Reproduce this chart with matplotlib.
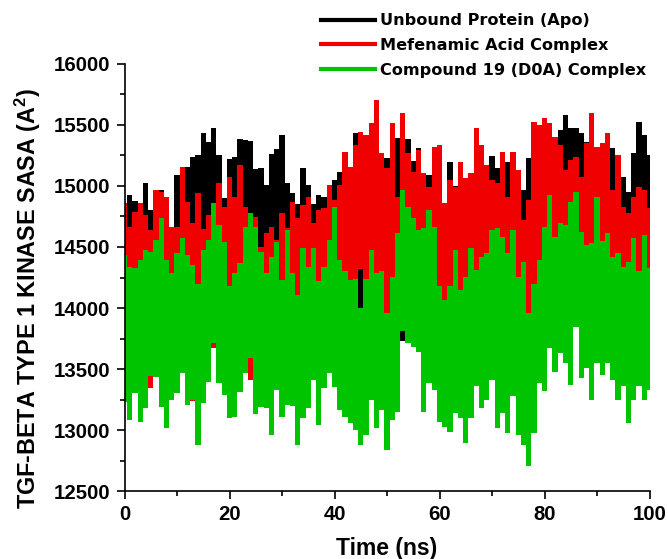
import numpy as np
import matplotlib
matplotlib.use('Agg')
import matplotlib.pyplot as plt
from matplotlib.lines import Line2D
from matplotlib.ticker import MultipleLocator

# top of each trace, read every 1 ns
apo_top = [14858, 14926, 14880, 14780, 15021, 14800, 14700, 14967, 14700, 14600,
           15090, 14800, 15158, 15240, 15253, 15430, 15362, 15470, 15250, 14900,
           15220, 15240, 15380, 15376, 15370, 15140, 15144, 15008, 15260, 15300,
           15420, 15021, 14940, 14850, 15144, 15008, 14850, 14926, 14912, 14800,
           15049, 15117, 15000, 15100, 15430, 15400, 15380, 15300, 15300, 15200,
           15226, 15300, 15390, 15300, 15381, 15200, 15308, 15103, 15090, 15100,
           15100, 14850, 15199, 15000, 15100, 15050, 15100, 15300, 15300, 15170,
           15248, 15144, 15035, 15199, 15200, 15000, 14970, 15226, 15400, 15400,
           15500, 15450, 15400, 15458, 15580, 15471, 15471, 15430, 15362, 15300,
           15267, 15300, 15417, 15308, 15199, 15076, 14950, 15267, 15526, 15417,
           15250]
mefenamic_top = [14858, 14667, 14790, 14858, 14762, 14640, 14967, 14953, 14912, 14667,
                 14667, 15158, 14871, 14694, 14940, 14650, 14762, 14720, 15021, 14830,
                 15076, 14912, 15171, 14830, 14640, 14749, 14503, 14612, 14667, 14558,
                 14776, 14653, 14871, 14735, 14844, 14912, 14694, 14803, 14817, 15008,
                 14885, 15008, 15280, 15158, 15335, 15444, 15417, 15512, 15703, 15267,
                 15144, 15512, 14912, 15594, 15267, 15117, 15294, 15103, 14994, 15321,
                 15335, 14858, 15049, 14994, 15199, 15062, 15103, 15471, 15335, 15171,
                 15049, 15021, 15280, 14912, 15280, 15130, 14720, 14885, 15526, 15499,
                 15553, 15512, 15403, 15335, 15130, 15212, 15240, 15076, 15349, 15594,
                 15321, 15349, 15430, 14967, 15253, 14830, 14776, 14912, 14994, 14967,
                 14817]
d0a_top = [14435, 14340, 14326, 14394, 14476, 14462, 14558, 14735, 14394, 14285,
           14449, 14571, 14435, 14350, 14200, 14476, 14558, 14858, 14680, 14544,
           14180, 14285, 14367, 14667, 14776, 14667, 14462, 14285, 14421, 14544,
           14230, 14640, 14285, 14110, 14490, 14340, 14490, 14220, 14340, 14558,
           14830, 14394, 14300, 14230, 14240, 14000, 14240, 14476, 14285, 14300,
           13960, 14258, 14612, 14967, 14830, 14735, 14640, 14653, 14803, 14667,
           14180, 14065, 14180, 14476, 14150, 14258, 14490, 14310, 14421, 14449,
           14640, 14653, 14585, 14449, 14640, 14258, 14380, 13960, 14200, 14394,
           14667, 14926, 14585, 14694, 14680, 14871, 14953, 14626, 14517, 14530,
           14912, 14545, 14612, 14421, 14449, 14340, 14380, 14571, 14300, 14599,
           14325]

# bottom of the green trace, the others sit behind it almost everywhere
d0a_bottom = [13234, 13085, 13303, 13071, 13180, 13440, 13439, 13193, 13016, 13248,
              13303, 13466, 13207, 13250, 12880, 13221, 13398, 13710, 13384, 13289,
              13098, 13112, 13316, 13466, 13590, 13130, 13193, 13180, 12962, 13330,
              13112, 13207, 13200, 12880, 13098, 13180, 13412, 13044, 13343, 13466,
              13357, 13166, 13112, 13057, 13003, 12880, 12962, 13248, 13016, 13166,
              12840, 13085, 13153, 13810, 13712, 13685, 13644, 13153, 13385, 13330,
              13071, 13030, 12989, 13139, 13098, 12894, 13098, 13358, 13180, 13249,
              13412, 13017, 13139, 12976, 13276, 12962, 12880, 12703, 12976, 13385,
              13317, 13671, 13480, 13630, 13548, 13371, 13848, 13426, 13508, 13249,
              13548, 13453, 13548, 13412, 13249, 13358, 13057, 13249, 13358, 13249,
              13330]

# places where red or black shows through the green
mefenamic_dip_t = [5, 17, 24, 13, 45]
mefenamic_dip_v = [13345, 13675, 13410, 13240, 14320]
apo_dip_t = [53]
apo_dip_v = [13730]

time_ns = np.arange(0, 101)
mefenamic_bottom = np.array(d0a_bottom)
mefenamic_bottom[mefenamic_dip_t] = mefenamic_dip_v
apo_bottom = np.array(d0a_bottom)
apo_bottom[apo_dip_t] = apo_dip_v

labels = ['Unbound Protein (Apo)', 'Mefenamic Acid Complex', 'Compound 19 (D0A) Complex']
colors = ['black', '#f00000', '#00c400']

plt.rcParams['font.family'] = ['Liberation Sans', 'DejaVu Sans']
plt.rcParams['font.weight'] = 'bold'
plt.rcParams['mathtext.fontset'] = 'custom'
plt.rcParams['mathtext.bf'] = 'Liberation Sans:bold'

fig = plt.figure(figsize=(6.68, 5.59), dpi=100)
ax = fig.add_axes([124.5 / 668, 1 - 491.3 / 559, 525 / 668, 427.6 / 559])

# the traces are so dense they read as solid bands, so draw their envelopes
ax.fill_between(time_ns, apo_bottom, apo_top, step='mid', color=colors[0], linewidth=0)
ax.fill_between(time_ns, mefenamic_bottom, mefenamic_top, step='mid', color=colors[1], linewidth=0)
ax.fill_between(time_ns, d0a_bottom, d0a_top, step='mid', color=colors[2], linewidth=0)

ax.set_xlim(0, 100)
ax.set_ylim(12500, 16000)
ax.xaxis.set_major_locator(MultipleLocator(20))
ax.xaxis.set_minor_locator(MultipleLocator(10))
ax.yaxis.set_major_locator(MultipleLocator(500))
ax.yaxis.set_minor_locator(MultipleLocator(250))
ax.tick_params(which='major', length=6, width=1.2, labelsize=14.7, pad=4)
ax.tick_params(which='minor', length=3.8, width=1.2)
ax.spines['top'].set_visible(False)
ax.spines['right'].set_visible(False)
ax.spines['left'].set_linewidth(1.2)
ax.spines['bottom'].set_linewidth(1.2)

fig.text(28 / 668, 1 - 298 / 559, r'TGF-BETA TYPE 1 KINASE SASA (A$^{\mathbf{2}}$)',
         rotation=90, ha='center', va='center', fontsize=16.8, fontweight='bold')
fig.text(387 / 668, 1 - 549 / 559, 'Time (ns)', ha='center', va='center',
         fontsize=16.5, fontweight='bold')

handles = [Line2D([], [], color=c, linewidth=3) for c in colors]
ax.legend(handles, labels, loc='upper left', bbox_to_anchor=(321 / 668, 1 - 13.5 / 559),
          bbox_transform=fig.transFigure, frameon=False, borderpad=0, borderaxespad=0,
          handlelength=3.35, handletextpad=0.3, labelspacing=0.59,
          prop={'family': 'DejaVu Sans', 'weight': 'bold', 'size': 11.6})

fig.savefig('out.png', dpi=100)
